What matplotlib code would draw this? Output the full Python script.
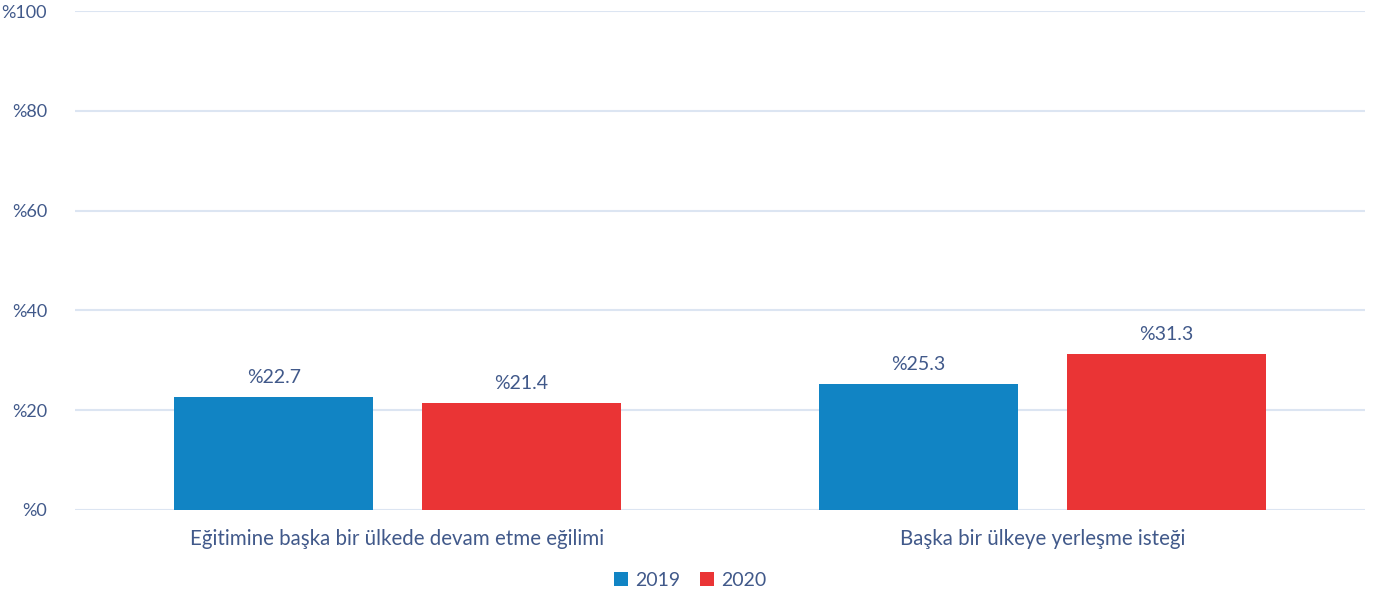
import matplotlib.pyplot as plt
import numpy as np

categories = ['Eğitimine başka bir ülkede devam etme eğilimi', 'Başka bir ülkeye yerleşme isteği']
years = ['2019', '2020']
values_2019 = [22.7, 25.3]
values_2020 = [21.4, 31.3]
yticks = [0, 20, 40, 60, 80, 100]

text_color = '#41598A'
colors = ['#1184C4', '#EA3435']

plt.rcParams['font.family'] = ['Lato', 'DejaVu Sans']

fig = plt.figure(figsize=(13.81, 6.01), dpi=100)
ax = fig.add_axes([75 / 1381, 91 / 601, 1290 / 1381, 499 / 601])

x = np.arange(len(categories))
width = 0.309
offset = 0.192

for i, (vals, year) in enumerate(zip([values_2019, values_2020], years)):
    pos = x + (offset if i else -offset)
    bars = ax.bar(pos, vals, width=width, color=colors[i], label=year, zorder=3)
    for b, v in zip(bars, vals):
        ax.text(b.get_x() + b.get_width() / 2, v + 2.2, '%{:.1f}'.format(v),
                ha='center', va='bottom', fontsize=14, color=text_color)

ax.set_xlim(-0.5, 1.5)
ax.set_ylim(0, 100)
ax.set_yticks(yticks)
ax.set_yticklabels(['%{}'.format(t) for t in yticks])
ax.set_xticks(x)
ax.set_xticklabels(categories, fontsize=14.8)
ax.tick_params(axis='y', length=0, colors=text_color, labelsize=13, pad=20)
ax.tick_params(axis='x', length=0, colors=text_color, pad=14)
ax.yaxis.grid(True, color='#DCE5F2', linewidth=1.5, zorder=0)
for s in ax.spines.values():
    s.set_visible(False)

handles, labels = ax.get_legend_handles_labels()
leg = fig.legend(handles, labels, loc='center', bbox_to_anchor=(0.5, 21 / 601),
                 ncol=2, frameon=False, fontsize=14, handlelength=0.7, handleheight=0.7,
                 columnspacing=1.0, handletextpad=0.4)
for t in leg.get_texts():
    t.set_color(text_color)

fig.savefig('out.png', dpi=100)
